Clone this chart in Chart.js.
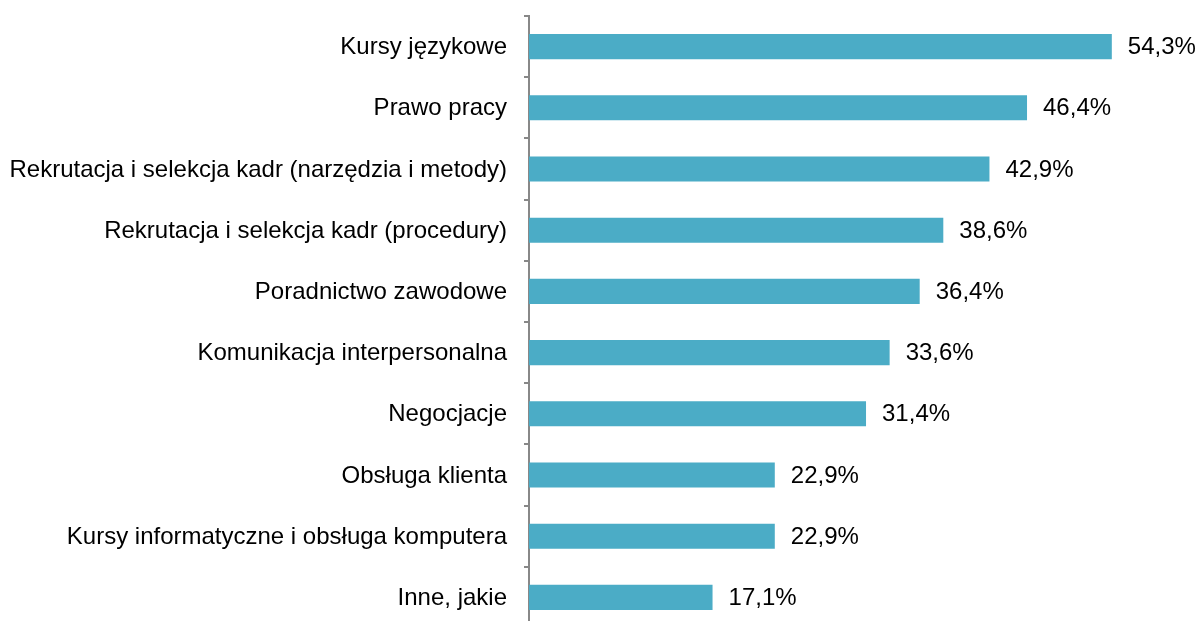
<!DOCTYPE html>
<html>
<head>
<meta charset="utf-8">
<script src="https://cdn.jsdelivr.net/npm/chart.js@4"></script>
<style>
html,body{margin:0;padding:0;background:#fff;overflow:hidden;}
#wrap{position:relative;width:1197px;height:628px;}
</style>
</head>
<body>
<div id="wrap"><canvas id="c"></canvas></div>
<script>
const categories = [
  "Kursy językowe",
  "Prawo pracy",
  "Rekrutacja i selekcja kadr (narzędzia i metody)",
  "Rekrutacja i selekcja kadr (procedury)",
  "Poradnictwo zawodowe",
  "Komunikacja interpersonalna",
  "Negocjacje",
  "Obsługa klienta",
  "Kursy informatyczne i obsługa komputera",
  "Inne, jakie"
];
const values = [54.3, 46.4, 42.9, 38.6, 36.4, 33.6, 31.4, 22.9, 22.9, 17.1];
const valueLabels = ["54,3%","46,4%","42,9%","38,6%","36,4%","33,6%","31,4%","22,9%","22,9%","17,1%"];

const FONT = "'Liberation Sans', Arial, sans-serif";

const labelPlugin = {
  id: 'valueLabels',
  afterDatasetsDraw(chart) {
    const ctx = chart.ctx;
    const meta = chart.getDatasetMeta(0);
    ctx.save();
    ctx.font = "24px " + FONT;
    ctx.fillStyle = "#000";
    ctx.textAlign = "left";
    ctx.textBaseline = "middle";
    meta.data.forEach((bar, i) => {
      ctx.fillText(valueLabels[i], bar.x + 16, bar.y + 1);
    });
    ctx.restore();
  }
};

new Chart(document.getElementById('c'), {
  type: 'bar',
  data: {
    labels: categories,
    datasets: [{
      data: values,
      backgroundColor: '#4BACC6',
      borderWidth: 0,
      categoryPercentage: 0.41,
      barPercentage: 1.0
    }]
  },
  options: {
    indexAxis: 'y',
    responsive: true,
    maintainAspectRatio: false,
    animation: false,
    layout: { padding: { top: 16, bottom: 0, left: 0, right: 24 } },
    plugins: { legend: { display: false }, tooltip: { enabled: false } },
    scales: {
      x: {
        display: false,
        min: 0,
        max: 60
      },
      y: {
        offset: true,
        afterFit(scale) {
          scale.width = 529;
          scale.paddingTop = 0;
          scale.paddingBottom = 0;
        },
        border: { display: true, color: '#888888', width: 2 },
        grid: {
          offset: true,
          drawOnChartArea: false,
          drawTicks: true,
          tickLength: 5,
          color: '#888888',
          lineWidth: 2
        },
        ticks: {
          color: '#000',
          padding: 17,
          labelOffset: 1,
          font: { family: FONT, size: 24 }
        }
      }
    }
  },
  plugins: [labelPlugin]
});
</script>
</body>
</html>
